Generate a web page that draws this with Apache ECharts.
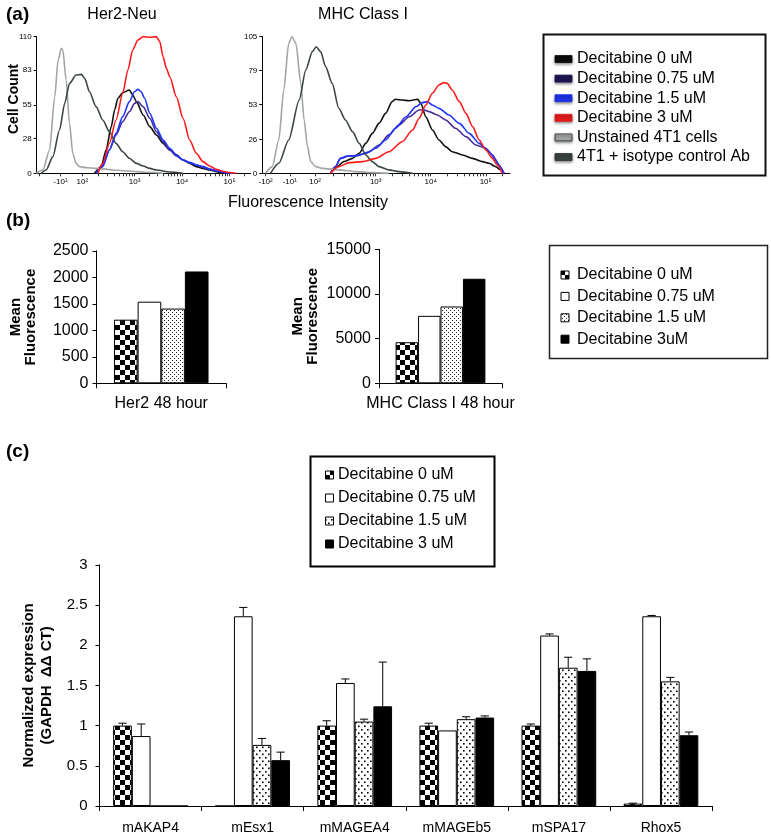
<!DOCTYPE html>
<html><head><meta charset="utf-8">
<script src="https://cdn.jsdelivr.net/npm/echarts@6/dist/echarts.min.js"></script>
<style>html,body{margin:0;padding:0;background:#fff}#c{width:771px;height:837px}</style>
</head><body><div id="c"></div>
<script>
// ---------- DATA ----------
// (a) flow histograms: x = display position on biexponential axis (10^3 -> 3, 10^4 -> 4, 10^5 -> 5), y = cell count
const histTickPos = [1.0, 1.44, 1.9, 3, 4, 5];
const histTickText = ['-10\u00B2', '-10\u00B9', '10\u00B2', '10\u00B3', '10\u2074', '10\u2075'];
const her2YTicks = [0, 28, 55, 83, 110];
const mhcYTicks = [0, 26, 53, 79, 105];

const her2Unstained = [[0.93,0],[1.07,2.7],[1.21,18.8],[1.32,61.7],[1.39,91.2],[1.46,100.6],[1.49,99.3],[1.56,75.1],[1.63,40.2],[1.70,16.1],[1.77,8.0],[1.84,5.4],[1.98,4.6],[2.19,4.0],[2.54,2.7],[2.89,1.9],[3.25,0.8],[3.60,0]];
const her2Isotype = [[1.035,0],[1.14,2.7],[1.28,13.4],[1.42,34.9],[1.53,56.3],[1.63,72.4],[1.77,79.1],[1.88,79.7],[1.95,76.5],[2.05,65.7],[2.19,53.7],[2.33,42.9],[2.47,33.5],[2.61,24.1],[2.75,17.4],[2.89,12.1],[3.04,8.0],[3.18,5.9],[3.32,4.0],[3.46,2.7],[3.74,1.0],[4.02,0]];
const her2Dec0 = [[2.16,0],[2.30,5.4],[2.40,18.8],[2.51,37.6],[2.58,51.0],[2.65,60.4],[2.75,64.9],[2.89,67.1],[2.96,63.1],[3.04,57.7],[3.18,47.0],[3.32,37.6],[3.46,30.9],[3.60,24.1],[3.74,18.8],[3.88,14.8],[4.02,10.7],[4.16,8.0],[4.30,5.4],[4.44,4.0],[4.58,2.7],[4.72,1.3],[4.86,0]];
const her2Dec075 = [[2.19,0],[2.33,6.7],[2.47,18.8],[2.61,30.9],[2.75,41.6],[2.89,49.6],[3.0,56.3],[3.07,57.7],[3.18,53.7],[3.32,44.3],[3.46,33.5],[3.60,25.5],[3.74,18.8],[3.88,14.0],[4.02,10.7],[4.16,8.6],[4.30,6.7],[4.44,4.8],[4.58,3.2],[4.72,1.9],[4.93,0.5],[5.07,0]];
const her2Dec15 = [[2.19,0],[2.33,5.4],[2.47,18.8],[2.61,32.2],[2.75,45.6],[2.89,57.7],[3.0,65.7],[3.07,67.6],[3.14,65.7],[3.21,60.4],[3.32,48.3],[3.46,36.2],[3.60,26.8],[3.74,20.1],[3.88,14.8],[4.02,10.7],[4.16,8.6],[4.30,6.7],[4.44,5.4],[4.58,3.5],[4.72,2.1],[4.93,0.5],[5.07,0]];
const her2Dec3 = [[2.23,0],[2.33,8.0],[2.47,24.1],[2.61,42.9],[2.75,64.4],[2.86,83.2],[2.96,99.3],[3.07,107.3],[3.18,110],[3.32,109.5],[3.46,110],[3.53,106],[3.60,93.9],[3.67,84.5],[3.74,77.8],[3.88,61.7],[4.02,44.3],[4.16,26.8],[4.30,16.1],[4.44,9.4],[4.58,5.9],[4.72,3.2],[4.86,1.6],[5.0,0.6],[5.14,0]];

const mhcUnstained = [[1.0,0],[1.12,5.1],[1.24,25.6],[1.33,64.0],[1.42,99.9],[1.48,105],[1.55,99.9],[1.64,69.1],[1.70,41.0],[1.76,20.5],[1.82,9.0],[1.91,5.1],[2.03,3.8],[2.33,2.6],[2.64,1.3],[2.94,0.5],[3.24,0]];
const mhcIsotype = [[1.09,0],[1.24,7.7],[1.42,25.6],[1.61,56.3],[1.73,79.4],[1.85,93.5],[1.92,97.3],[2.0,93.5],[2.09,82.0],[2.21,69.1],[2.33,50.0],[2.45,41.0],[2.58,32.0],[2.70,23.0],[2.82,14.1],[2.94,9.0],[3.06,5.1],[3.24,2.6],[3.42,1.3],[3.67,0]];
const mhcDec0 = [[2.18,0],[2.30,5.1],[2.42,9.0],[2.58,11.5],[2.70,15.4],[2.82,23.0],[2.94,30.7],[3.06,38.4],[3.18,46.1],[3.30,55.1],[3.36,56.9],[3.48,56.3],[3.61,55.8],[3.76,56.9],[3.82,53.8],[3.91,43.5],[4.03,33.3],[4.15,25.6],[4.27,20.5],[4.39,16.6],[4.58,14.1],[4.76,11.5],[4.94,9.0],[5.06,7.7],[5.18,5.1],[5.27,2.6],[5.33,0]];
const mhcDec075 = [[2.18,0],[2.27,5.1],[2.36,11.5],[2.52,13.3],[2.70,14.1],[2.88,16.6],[3.06,21.8],[3.24,29.5],[3.42,37.1],[3.61,43.5],[3.79,48.7],[3.88,48.7],[3.97,47.4],[4.12,44.8],[4.27,41.0],[4.45,34.6],[4.64,28.2],[4.82,21.8],[5.0,19.2],[5.12,14.1],[5.24,6.4],[5.33,0]];
const mhcDec15 = [[2.18,0],[2.27,5.1],[2.36,11.5],[2.48,13.3],[2.64,13.3],[2.82,15.4],[3.0,19.2],[3.18,25.6],[3.36,34.6],[3.55,43.5],[3.73,51.2],[3.85,54.3],[3.94,55.1],[4.03,52.5],[4.15,49.9],[4.33,44.8],[4.52,38.4],[4.70,30.7],[4.88,23.0],[5.06,16.6],[5.18,10.2],[5.27,3.8],[5.33,0]];
const mhcDec3 = [[2.18,0],[2.33,5.1],[2.52,8.2],[2.76,9.0],[3.0,11.5],[3.24,16.6],[3.48,24.3],[3.67,33.3],[3.79,42.3],[3.91,52.5],[4.03,61.5],[4.15,67.9],[4.24,69.7],[4.30,69.1],[4.39,64.0],[4.52,55.1],[4.64,46.1],[4.76,35.9],[4.88,25.6],[5.0,17.9],[5.12,11.5],[5.21,6.4],[5.30,0]];

const histLegend = ['Decitabine 0 uM', 'Decitabine 0.75 uM', 'Decitabine 1.5 uM', 'Decitabine 3 uM', 'Unstained 4T1 cells', '4T1 + isotype control Ab'];

// (b) mean fluorescence
const bCategoriesHer2 = ['Her2 48 hour'];
const bCategoriesMhc = ['MHC Class I 48 hour'];
const bLegend = ['Decitabine 0 uM', 'Decitabine 0.75 uM', 'Decitabine 1.5 uM', 'Decitabine 3uM'];
const bHer2Values = [1200, 1540, 1410, 2110];
const bMhcValues = [4600, 7550, 8600, 11700];

// (c) normalized expression
const cCategories = ['mAKAP4', 'mEsx1', 'mMAGEA4', 'mMAGEb5', 'mSPA17', 'Rhox5'];
const cLegend = ['Decitabine 0 uM', 'Decitabine 0.75 uM', 'Decitabine 1.5 uM', 'Decitabine 3 uM'];
const cDec0 = [1.0, 0, 1.0, 1.0, 1.0, 0.03];
const cDec0ErrTop = [1.03, 0, 1.06, 1.03, 1.02, 0.035];
const cDec075 = [0.87, 2.36, 1.53, 0.94, 2.12, 2.36];
const cDec075ErrTop = [1.02, 2.47, 1.58, 0.94, 2.14, 2.37];
const cDec15 = [0, 0.76, 1.05, 1.08, 1.72, 1.55];
const cDec15ErrTop = [0, 0.84, 1.08, 1.11, 1.85, 1.60];
const cDec3 = [0, 0.57, 1.24, 1.10, 1.68, 0.88];
const cDec3ErrTop = [0, 0.67, 1.79, 1.12, 1.83, 0.92];

// ---------- STYLE HELPERS ----------
const FONT = '"Liberation Sans", Arial, Helvetica, sans-serif';
function mkCanvas(w, h, draw) { const c = document.createElement('canvas'); c.width = w; c.height = h; const g = c.getContext('2d'); g.fillStyle = '#fff'; g.fillRect(0, 0, w, h); g.fillStyle = '#000'; draw(g); return c; }
const checkerPat = { image: mkCanvas(10, 10, g => { g.fillRect(0, 0, 5, 5); g.fillRect(5, 5, 5, 5); }), repeat: 'repeat' };
const fineDotPat = { image: mkCanvas(4, 4, g => { g.fillStyle = '#222'; g.fillRect(0, 0, 1, 1); g.fillRect(2, 2, 1, 1); }), repeat: 'repeat' };
const sparseDotPat = { image: mkCanvas(6, 7, g => { g.fillRect(1, 1, 1.6, 1.6); g.fillRect(4, 4.5, 1.6, 1.6); }), repeat: 'repeat' };
const bFills = [checkerPat, '#fff', fineDotPat, '#000'];
const cFills = [checkerPat, '#fff', sparseDotPat, '#000'];

const histColors = ['#111111', '#4a2c96', '#1b34ff', '#ff1a1a', '#a2a6a6', '#3d4545'];
const histLegendColors = ['#0b0b0b', '#1c1650', '#1f32e8', '#e51c1c', '#a0a4a4', '#3a4242'];

// minor ticks on the biexponential axis
const histMinor = [];
for (let m = 2; m <= 9; m++) { histMinor.push(1.9 + 1.1 * Math.log10(m)); histMinor.push(3 + Math.log10(m)); histMinor.push(4 + Math.log10(m)); }
histMinor.push(5 + Math.log10(2));
const histAllTicks = histTickPos.concat(histMinor).sort((a, b) => a - b);

const axisBlack = { lineStyle: { color: '#000', width: 1 } };

function histXAxis(grid, showNeg2) {
  const pos = showNeg2 ? histTickPos : histTickPos.slice(1);
  return {
    type: 'value', gridIndex: grid, min: 0.94, max: 5.44,
    axisLine: axisBlack, splitLine: { show: false },
    axisTick: { show: true, customValues: histAllTicks, length: 3, lineStyle: { color: '#333' } },
    axisLabel: { customValues: pos, fontSize: 8, margin: 4, color: '#000', fontFamily: FONT,
      formatter: v => { let best = 0; histTickPos.forEach((p, i) => { if (Math.abs(p - v) < Math.abs(histTickPos[best] - v)) best = i; }); return histTickText[best]; } }
  };
}
function histYAxis(grid, ticks) {
  return {
    type: 'value', gridIndex: grid, min: 0, max: ticks[ticks.length - 1],
    axisLine: { show: true, lineStyle: { color: '#000', width: 1 } }, splitLine: { show: false },
    axisTick: { show: true, customValues: ticks, length: 3, lineStyle: { color: '#000' } },
    axisLabel: { customValues: ticks, fontSize: 8, margin: 5, color: '#000', fontFamily: FONT }
  };
}
function histSeries(xi, arrs) {
  return arrs.map((d, k) => ({
    type: 'line', xAxisIndex: xi, yAxisIndex: xi, data: d, showSymbol: false, symbol: 'none',
    smooth: 0.25, smoothMonotone: 'x', lineStyle: { color: histColors[k], width: 1.6 }, z: 3 + (k === 3 ? 1 : 0), silent: true
  }));
}
// order: Dec0, Dec0.75, Dec1.5, Dec3, Unstained, Isotype
const her2Arrs = [her2Dec0, her2Dec075, her2Dec15, her2Dec3, her2Unstained, her2Isotype];
const mhcArrs = [mhcDec0, mhcDec075, mhcDec15, mhcDec3, mhcUnstained, mhcIsotype];

function barSeries(xi, values, k, fills, name) {
  return { type: 'bar', name, xAxisIndex: xi, yAxisIndex: xi, data: values, barGap: '0%', barCategoryGap: '27%',
    itemStyle: { color: fills[k], borderColor: '#000', borderWidth: 1 }, silent: true, z: 2 };
}

const C_GAP = 0.268;
const cBars = [cDec0, cDec075, cDec15, cDec3];
const cErr = [cDec0ErrTop, cDec075ErrTop, cDec15ErrTop, cDec3ErrTop];
function errSeries(k) {
  return {
    type: 'custom', xAxisIndex: 4, yAxisIndex: 4, z: 5, silent: true,
    data: cBars[k].map((v, i) => [i, v, cErr[k][i]]),
    encode: { x: 0, y: 1 },
    renderItem: (params, api) => {
      const v = api.value(1), t = api.value(2);
      if (!(t > v)) return null;
      const p0 = api.coord([api.value(0), v]);
      const p1 = api.coord([api.value(0), t]);
      const catW = api.size([1, 0])[0];
      const bw = catW * (1 - C_GAP) / 4;
      const x = p0[0] + (k - 1.5) * bw;
      const cap = bw * 0.22;
      return { type: 'group', children: [
        { type: 'line', shape: { x1: x, y1: p0[1], x2: x, y2: p1[1] }, style: { stroke: '#000', lineWidth: 1 } },
        { type: 'line', shape: { x1: x - cap, y1: p1[1], x2: x + cap, y2: p1[1] }, style: { stroke: '#000', lineWidth: 1 } }
      ] };
    }
  };
}

// ---------- GRAPHIC (labels & legends) ----------
function txt(x, y, text, size, opts = {}) {
  return { type: 'text', x, y, rotation: opts.rot || 0, silent: true, z: 10,
    style: { text, fontSize: size, fontFamily: FONT, fontWeight: opts.bold ? 'bold' : 'normal', fill: '#000',
      textAlign: opts.align || 'center', textVerticalAlign: 'middle', lineHeight: opts.lh } };
}
const graphics = [];
graphics.push(txt(6, 15, '(a)', 19, { bold: true, align: 'left' }));
graphics.push(txt(6, 221, '(b)', 19, { bold: true, align: 'left' }));
graphics.push(txt(6, 452, '(c)', 19, { bold: true, align: 'left' }));
graphics.push(txt(122, 15, 'Her2-Neu', 16));
graphics.push(txt(363, 15, 'MHC Class I', 16));
graphics.push(txt(14.5, 99, 'Cell Count', 14, { bold: true, rot: Math.PI / 2 }));
graphics.push(txt(308, 203, 'Fluorescence Intensity', 16));
// legend (a)
graphics.push({ type: 'rect', shape: { x: 543.5, y: 34.5, width: 222, height: 141 }, style: { fill: '#fff', stroke: '#111', lineWidth: 2 }, z: 9, silent: true });
histLegend.forEach((name, i) => {
  const cy = 59 + i * 19.6;
  graphics.push({ type: 'rect', shape: { x: 555, y: cy - 3.5, width: 17, height: 7 }, z: 10, silent: true,
    style: { fill: histLegendColors[i], stroke: i >= 4 ? '#333' : histLegendColors[i], lineWidth: 0.8, shadowBlur: 3, shadowColor: 'rgba(0,0,0,0.45)', shadowOffsetY: 1.5 } });
  graphics.push(txt(577, cy, name, 16, { align: 'left' }));
});
// legend (b)
graphics.push({ type: 'rect', shape: { x: 549.5, y: 245.5, width: 218, height: 113 }, style: { fill: '#fff', stroke: '#222', lineWidth: 1.5 }, z: 9, silent: true });
bLegend.forEach((name, i) => {
  const cy = 275 + i * 21.4;
  graphics.push({ type: 'rect', shape: { x: 561, y: cy - 4, width: 8, height: 8 }, z: 10, silent: true, style: { fill: bFills[i], stroke: '#000', lineWidth: 1 } });
  graphics.push(txt(577, cy, name, 16, { align: 'left' }));
});
// legend (c)
graphics.push({ type: 'rect', shape: { x: 310.5, y: 456.5, width: 184, height: 110 }, style: { fill: '#fff', stroke: '#000', lineWidth: 2 }, z: 9, silent: true });
cLegend.forEach((name, i) => {
  const cy = 475 + i * 23;
  graphics.push({ type: 'rect', shape: { x: 325.5, y: cy - 4, width: 8, height: 8 }, z: 10, silent: true, style: { fill: cFills[i], stroke: '#000', lineWidth: 1 } });
  graphics.push(txt(338, cy, name, 16, { align: 'left' }));
});

// ---------- OPTION ----------
const catAxisBase = (gi, data, margin, fs) => ({
  type: 'category', gridIndex: gi, data,
  axisLine: axisBlack, axisTick: { show: true, length: 5, interval: 0, lineStyle: { color: '#000' } },
  axisLabel: { color: '#000', fontSize: fs, margin, fontFamily: FONT, interval: 0 }
});
const valAxisBase = (gi, max, interval, fs, margin, name, nameGap, nameSize, lh) => ({
  type: 'value', gridIndex: gi, min: 0, max, interval,
  axisLine: { show: true, lineStyle: { color: '#000', width: 1 } }, splitLine: { show: false },
  axisTick: { show: true, length: 4, lineStyle: { color: '#000' } },
  axisLabel: { color: '#000', fontSize: fs, margin, fontFamily: FONT, formatter: v => String(v) },
  name, nameLocation: 'middle', nameRotate: 90, nameGap,
  nameTextStyle: { color: '#000', fontWeight: 'bold', fontSize: nameSize, fontFamily: FONT, lineHeight: lh }
});

const option = {
  animation: false,
  backgroundColor: '#fff',
  grid: [
    { left: 36.7, top: 36.7, width: 213.8, height: 136.6 },
    { left: 262.3, top: 36.7, width: 247.7, height: 136.6 },
    { left: 96.5, top: 250.8, width: 129.5, height: 132.5 },
    { left: 379, top: 249.3, width: 123, height: 134 },
    { left: 99.5, top: 564.8, width: 612.5, height: 241.2 }
  ],
  xAxis: [
    histXAxis(0, false), histXAxis(1, true),
    catAxisBase(2, bCategoriesHer2, 12, 16),
    catAxisBase(3, bCategoriesMhc, 12, 16),
    catAxisBase(4, cCategories, 15, 14)
  ],
  yAxis: [
    histYAxis(0, her2YTicks), histYAxis(1, mhcYTicks),
    valAxisBase(2, 2500, 500, 16, 8, 'Mean\nFluorescence', 58, 15, 15),
    valAxisBase(3, 15000, 5000, 16, 8, 'Mean\nFluorescence', 59, 15, 15),
    valAxisBase(4, 3, 0.5, 15, 12, 'Normalized expression\n(GAPDH  \u0394\u0394 CT)', 43, 15, 18)
  ],
  series: [].concat(
    histSeries(0, her2Arrs),
    histSeries(1, mhcArrs),
    bHer2Values.map((v, k) => barSeries(2, [v], k, bFills, bLegend[k])),
    bMhcValues.map((v, k) => barSeries(3, [v], k, bFills, bLegend[k])),
    cBars.map((arr, k) => barSeries(4, arr, k, cFills, cLegend[k])).map(s => Object.assign(s, { barCategoryGap: (C_GAP * 100) + '%' })),
    [0, 1, 2, 3].map(k => errSeries(k))
  ),
  graphic: { elements: graphics }
};
const chart = echarts.init(document.getElementById('c'), null, { renderer: 'canvas' });
chart.setOption(option);
</script></body></html>
